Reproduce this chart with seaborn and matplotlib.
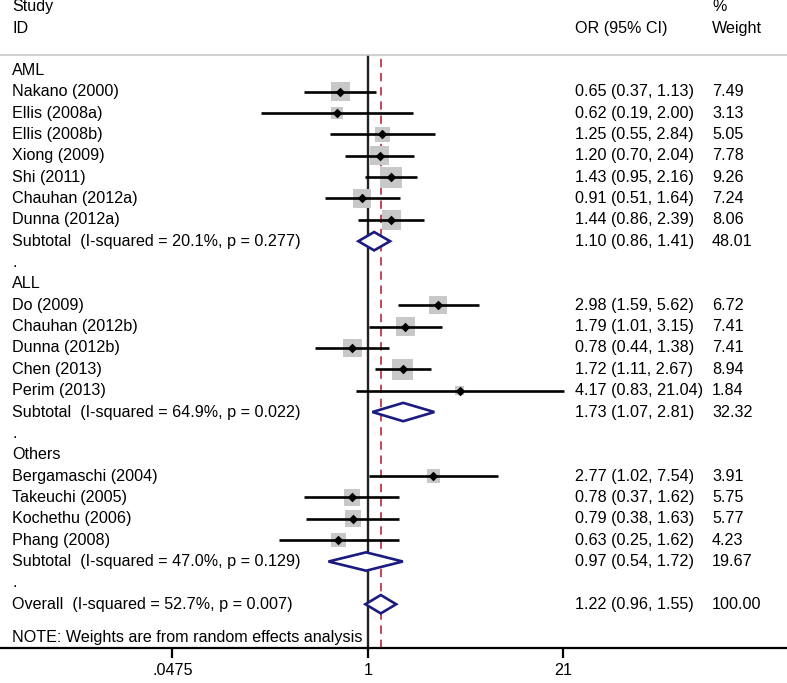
"""Forest plot of odds ratios by leukemia subgroup (Stata metan style)."""

import numpy as np
import pandas as pd
import matplotlib
matplotlib.use("Agg")
import matplotlib.pyplot as plt
from matplotlib.patches import Polygon
import seaborn as sns

# --- data -------------------------------------------------------------------
groups = ["AML", "ALL", "Others"]

studies = [
    "Nakano (2000)", "Ellis (2008a)", "Ellis (2008b)", "Xiong (2009)",
    "Shi (2011)", "Chauhan (2012a)", "Dunna (2012a)",
    "Do (2009)", "Chauhan (2012b)", "Dunna (2012b)", "Chen (2013)", "Perim (2013)",
    "Bergamaschi (2004)", "Takeuchi (2005)", "Kochethu (2006)", "Phang (2008)",
]
study_group = ["AML"] * 7 + ["ALL"] * 5 + ["Others"] * 4
odds_ratio = [0.65, 0.62, 1.25, 1.20, 1.43, 0.91, 1.44,
              2.98, 1.79, 0.78, 1.72, 4.17,
              2.77, 0.78, 0.79, 0.63]
ci_low = [0.37, 0.19, 0.55, 0.70, 0.95, 0.51, 0.86,
          1.59, 1.01, 0.44, 1.11, 0.83,
          1.02, 0.37, 0.38, 0.25]
ci_high = [1.13, 2.00, 2.84, 2.04, 2.16, 1.64, 2.39,
           5.62, 3.15, 1.38, 2.67, 21.04,
           7.54, 1.62, 1.63, 1.62]
weight = [7.49, 3.13, 5.05, 7.78, 9.26, 7.24, 8.06,
          6.72, 7.41, 7.41, 8.94, 1.84,
          3.91, 5.75, 5.77, 4.23]

subtotal_i2 = ["20.1%", "64.9%", "47.0%"]
subtotal_p = ["0.277", "0.022", "0.129"]
subtotal_or = [1.10, 1.73, 0.97]
subtotal_low = [0.86, 1.07, 0.54]
subtotal_high = [1.41, 2.81, 1.72]
subtotal_weight = [48.01, 32.32, 19.67]

overall_i2, overall_p = "52.7%", "0.007"
overall_or, overall_low, overall_high, overall_weight = 1.22, 0.96, 1.55, 100.00

tick_values = [0.0475, 1, 21]
tick_labels = [".0475", "1", "21"]

# --- layout rows --------------------------------------------------------------
df = pd.DataFrame({"study": studies, "group": study_group, "or": odds_ratio,
                   "lo": ci_low, "hi": ci_high, "w": weight})
df["row"] = 0.0
header_rows, subtotal_rows, dot_rows = [], [], []
row = 0
for g in groups:
    header_rows.append(row)
    row += 1
    idx = df.index[df["group"] == g]
    df.loc[idx, "row"] = np.arange(row, row + len(idx))
    row += len(idx)
    subtotal_rows.append(row)
    dot_rows.append(row + 1)
    row += 2
overall_row = row
note_row = overall_row + 1.55

# --- figure -----------------------------------------------------------------
sns.set_theme(style="white")
plt.rcParams["font.family"] = ["Liberation Sans", "DejaVu Sans"]
FS = 11.6

fig = plt.figure(figsize=(7.87, 6.83), dpi=100)
ax = fig.add_axes([0, 35 / 683, 1, 593 / 683])
ax.set_xscale("log")
ax.set_xlim(0.003238, 683)
ax.set_ylim(27.05, -0.72)

for s in ["left", "right"]:
    ax.spines[s].set_visible(False)
ax.spines["top"].set_color("#c8c8c8")
ax.spines["top"].set_linewidth(1.2)
ax.spines["bottom"].set_color("black")
ax.spines["bottom"].set_linewidth(1.6)

ax.set_xticks(tick_values)
ax.set_xticklabels(tick_labels, fontsize=FS)
ax.minorticks_off()
ax.tick_params(axis="x", direction="out", length=7, width=1.6, pad=4, colors="black",
               bottom=True)
ax.set_yticks([])

# null line and overall estimate line
ax.axvline(1, color="#222222", lw=1.7, zorder=2)
ax.axvline(overall_or, color="#b8283c", lw=1.2, ls=(0, (5, 3.5)), zorder=2)

# confidence intervals
ax.hlines(df["row"], df["lo"], df["hi"], color="black", lw=1.9, zorder=4)

# weight squares (area proportional to weight)
k = 25.0
sns.scatterplot(data=df, x="or", y="row", size="w", sizes=(k * df["w"].min(), k * df["w"].max()),
                size_norm=(df["w"].min(), df["w"].max()), marker="s", color="#c8c8c8",
                linewidth=0, legend=False, ax=ax, zorder=3)
sns.scatterplot(data=df, x="or", y="row", marker="D", s=24, color="black",
                linewidth=0, legend=False, ax=ax, zorder=5)
ax.xaxis.label.set_visible(False)
ax.yaxis.label.set_visible(False)


def diamond(est, lo, hi, y, h=0.43):
    poly = Polygon([(lo, y), (est, y - h), (hi, y), (est, y + h)], closed=True,
                   facecolor="white", edgecolor="#1b1b80", lw=1.9, zorder=5)
    ax.add_patch(poly)


for i in range(len(groups)):
    diamond(subtotal_or[i], subtotal_low[i], subtotal_high[i], subtotal_rows[i])
diamond(overall_or, overall_low, overall_high, overall_row)

# --- text columns -------------------------------------------------------------
tr = ax.get_yaxis_transform()
x_lab, x_or, x_w = 12 / 787, 575 / 787, 712 / 787


def put(x, y, s):
    ax.text(x, y, s, transform=tr, fontsize=FS, va="center", ha="left",
            clip_on=False, color="black")


put(x_lab, -2.97, "Study")
put(x_lab, -1.94, "ID")
put(x_or, -1.94, "OR (95% CI)")
put(x_w, -2.97, "%")
put(x_w, -1.94, "Weight")

for g, r in zip(groups, header_rows):
    put(x_lab, r, g)
for _, rec in df.iterrows():
    put(x_lab, rec["row"], rec["study"])
    put(x_or, rec["row"], f"{rec['or']:.2f} ({rec['lo']:.2f}, {rec['hi']:.2f})")
    put(x_w, rec["row"], f"{rec['w']:.2f}")
for i, r in enumerate(subtotal_rows):
    put(x_lab, r, f"Subtotal  (I-squared = {subtotal_i2[i]}, p = {subtotal_p[i]})")
    put(x_or, r, f"{subtotal_or[i]:.2f} ({subtotal_low[i]:.2f}, {subtotal_high[i]:.2f})")
    put(x_w, r, f"{subtotal_weight[i]:.2f}")
for r in dot_rows:
    put(x_lab, r, ".")
put(x_lab, overall_row, f"Overall  (I-squared = {overall_i2}, p = {overall_p})")
put(x_or, overall_row, f"{overall_or:.2f} ({overall_low:.2f}, {overall_high:.2f})")
put(x_w, overall_row, f"{overall_weight:.2f}")
put(x_lab, note_row, "NOTE: Weights are from random effects analysis")

fig.savefig("out.png", dpi=100)
